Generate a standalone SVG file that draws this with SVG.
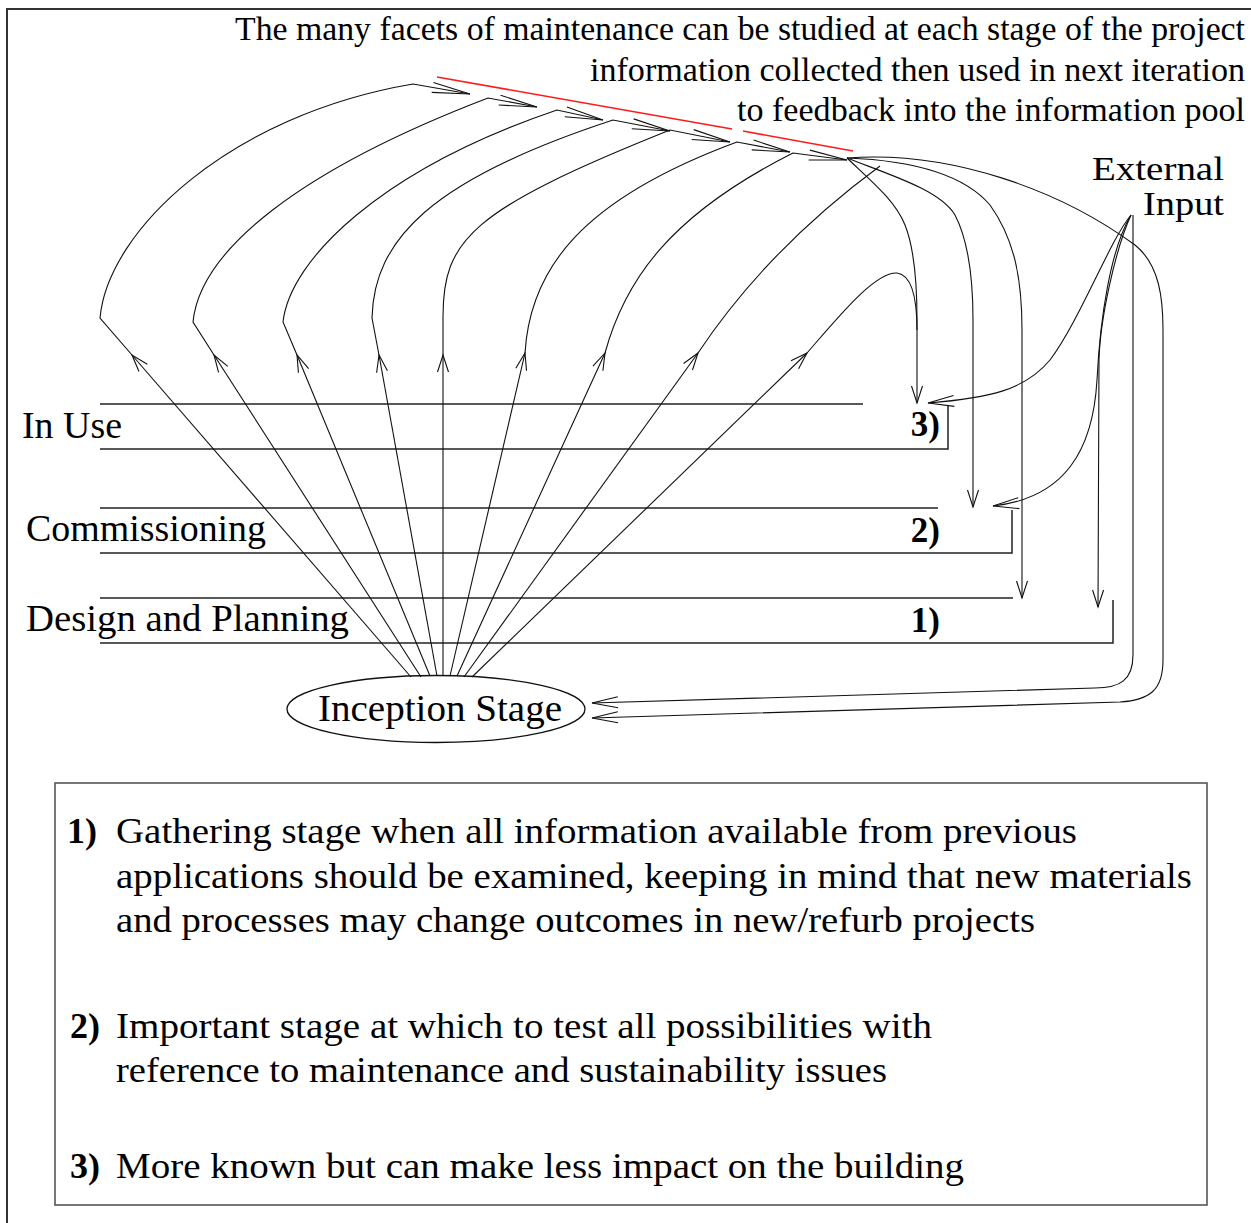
<svg xmlns="http://www.w3.org/2000/svg" width="1251" height="1223" viewBox="0 0 1251 1223">
  <defs>
    <style>
      .serif { font-family: "Liberation Serif", "Times New Roman", serif; fill: #000; }
      .title { font-size: 34px; }
      .stage { font-size: 38px; }
      .ext { font-size: 34px; }
      .num { font-size: 35px; font-weight: bold; }
      .legend { font-size: 36px; }
      .legnum { font-size: 36px; font-weight: bold; }
      .wire { fill: none; stroke: #111; stroke-width: 1.1; }
      .band { fill: none; stroke: #222; stroke-width: 1.5; }
      .head { fill: none; stroke: #111; stroke-width: 1.1; }
    </style>
    <!-- open V arrowheads: short, medium and long narrow -->
    <marker id="ah-s" markerUnits="userSpaceOnUse" markerWidth="1" markerHeight="1" refX="0" refY="0" orient="auto" overflow="visible">
      <path class="head" d="M-17,-5.5 L0,0 L-17,5.5"/>
    </marker>
    <marker id="ah-m" markerUnits="userSpaceOnUse" markerWidth="1" markerHeight="1" refX="0" refY="0" orient="auto" overflow="visible">
      <path class="head" d="M-26,-5.5 L0,0 L-26,5.5"/>
    </marker>
    <marker id="ah-l" markerUnits="userSpaceOnUse" markerWidth="1" markerHeight="1" refX="0" refY="0" orient="auto" overflow="visible">
      <path class="head" d="M-38,-5 L0,0 L-38,5"/>
    </marker>
  </defs>

  <rect width="1251" height="1223" fill="#fff"/>
  <!-- outer frame (top and left edges) -->
  <path d="M7,1223 V9 H1251" fill="none" stroke="#333" stroke-width="2"/>

  <!-- heading -->
  <g id="heading" class="serif title" text-anchor="end">
    <text x="1245" y="40" textLength="1010" lengthAdjust="spacingAndGlyphs">The many facets of maintenance can be studied at each stage of the project</text>
    <text x="1245" y="81" textLength="655" lengthAdjust="spacingAndGlyphs">information collected then used in next iteration</text>
    <text x="1245" y="121" textLength="508" lengthAdjust="spacingAndGlyphs">to feedback into the information pool</text>
  </g>

  <!-- red emphasis strokes over the information pool -->
  <g id="pool-mark" stroke="#ff1a1a" stroke-width="1.6" fill="none">
    <path d="M437,77 L732,129"/>
    <path d="M743,131 L853,151"/>
  </g>

  <g id="external-input" class="serif ext" text-anchor="end">
    <text x="1224" y="180" textLength="132" lengthAdjust="spacingAndGlyphs">External</text>
    <text x="1224" y="215" textLength="81" lengthAdjust="spacingAndGlyphs">Input</text>
  </g>

  <!-- project stages as bands -->
  <g id="stage-in-use">
    <path class="band" d="M100,404 H863"/>
    <path class="band" d="M100,449 H948 V406"/>
    <text class="serif stage" x="22" y="438" textLength="100" lengthAdjust="spacingAndGlyphs">In Use</text>
    <text class="serif num" x="940" y="436" text-anchor="end">3)</text>
  </g>
  <g id="stage-commissioning">
    <path class="band" d="M100,508 H938"/>
    <path class="band" d="M100,553 H1012 V510"/>
    <text class="serif stage" x="26" y="541" textLength="240" lengthAdjust="spacingAndGlyphs">Commissioning</text>
    <text class="serif num" x="940" y="542" text-anchor="end">2)</text>
  </g>
  <g id="stage-design">
    <path class="band" d="M100,598 H1013"/>
    <path class="band" d="M100,643 H1113 V600"/>
    <text class="serif stage" x="26" y="631" textLength="323" lengthAdjust="spacingAndGlyphs">Design and Planning</text>
    <text class="serif num" x="940" y="632" text-anchor="end">1)</text>
  </g>

  <g id="inception">
    <ellipse cx="436" cy="709" rx="149" ry="33.5" fill="#fff" stroke="#111" stroke-width="1.3"/>
    <text class="serif stage" x="318" y="721" textLength="244" lengthAdjust="spacingAndGlyphs">Inception Stage</text>
  </g>

  <g id="connectors" class="wire">
    <!-- fan from the inception stage -->
    <path d="M411,677 L132,355" marker-end="url(#ah-s)"/>
    <path d="M421,677 L214,355" marker-end="url(#ah-s)"/>
    <path d="M430,676 L297,355" marker-end="url(#ah-s)"/>
    <path d="M437,676 L379,355" marker-end="url(#ah-s)"/>
    <path d="M443,676 L443,355" marker-end="url(#ah-s)"/>
    <path d="M450,676 L525,353" marker-end="url(#ah-s)"/>
    <path d="M457,676 L605,353" marker-end="url(#ah-s)"/>
    <path d="M464,677 L698,353" marker-end="url(#ah-s)"/>
    <path d="M472,677 L807,353" marker-end="url(#ah-s)"/>

    <!-- arcs up to the information pool -->
    <path d="M132,355 L100,318 C108,230 230,115 413,84 L470,94" marker-end="url(#ah-l)"/>
    <path d="M214,355 L193,322 C200,250 300,170 488,98 L537,107" marker-end="url(#ah-l)"/>
    <path d="M297,355 L283,322 C290,260 380,170 557,110 L603,120" marker-end="url(#ah-l)"/>
    <path d="M379,355 L372,318 C374,240 430,180 613,120 L670,131" marker-end="url(#ah-l)"/>
    <path d="M443,355 L443,317 C443,240 470,210 670,130 L730,142" marker-end="url(#ah-l)"/>
    <path d="M525,353 C530,270 580,200 737,142 L790,152" marker-end="url(#ah-l)"/>
    <path d="M605,353 C625,280 670,215 793,153 L847,160" marker-end="url(#ah-l)"/>
    <path d="M698,353 C740,290 800,225 880,166"/>
    <path d="M807,353 C840,315 875,272 897,273 C912,275 917,300 917,330"/>

    <!-- feedback from the pool into the stages -->
    <path d="M847,158 C870,180 895,200 905,225 C915,250 917,290 917,320 V403" marker-end="url(#ah-s)"/>
    <path d="M847,158 C890,175 940,190 955,215 C968,240 973,280 973,320 V507" marker-end="url(#ah-s)"/>
    <path d="M847,158 C900,160 960,170 990,205 C1015,240 1022,280 1022,330 V598" marker-end="url(#ah-s)"/>
    <path d="M847,158 C950,150 1060,190 1135,245 C1160,265 1163,300 1163,330 V660 C1163,690 1150,700 1120,702 L592,718" marker-end="url(#ah-m)"/>

    <!-- external input -->
    <path d="M1133,215 V655 C1133,680 1120,688 1095,688 L592,703" marker-end="url(#ah-m)"/>
    <path d="M1131,215 C1115,250 1100,320 1099,360 L1098,607" marker-end="url(#ah-s)"/>
    <path d="M1131,215 C1110,250 1100,320 1097,380 C1093,450 1065,498 993,506" marker-end="url(#ah-m)"/>
    <path d="M1131,215 C1110,240 1080,320 1050,360 C1025,390 990,398 928,403" marker-end="url(#ah-m)"/>
  </g>

  <!-- notes on each stage -->
  <g id="legend">
    <rect x="55" y="783" width="1152" height="422" fill="none" stroke="#555" stroke-width="1.6"/>
    <text class="serif legnum" x="67" y="843">1)</text>
    <text class="serif legend" x="116" y="843" textLength="961" lengthAdjust="spacingAndGlyphs">Gathering stage when all information available from previous</text>
    <text class="serif legend" x="116" y="888" textLength="1076" lengthAdjust="spacingAndGlyphs">applications should be examined, keeping in mind that new materials</text>
    <text class="serif legend" x="116" y="932" textLength="919" lengthAdjust="spacingAndGlyphs">and processes may change outcomes in new/refurb projects</text>
    <text class="serif legnum" x="70" y="1038">2)</text>
    <text class="serif legend" x="116" y="1038" textLength="816" lengthAdjust="spacingAndGlyphs">Important stage at which to test all possibilities with</text>
    <text class="serif legend" x="116" y="1082" textLength="771" lengthAdjust="spacingAndGlyphs">reference to maintenance and sustainability issues</text>
    <text class="serif legnum" x="70" y="1178">3)</text>
    <text class="serif legend" x="116" y="1178" textLength="848" lengthAdjust="spacingAndGlyphs">More known but can make less impact on the building</text>
  </g>
</svg>
